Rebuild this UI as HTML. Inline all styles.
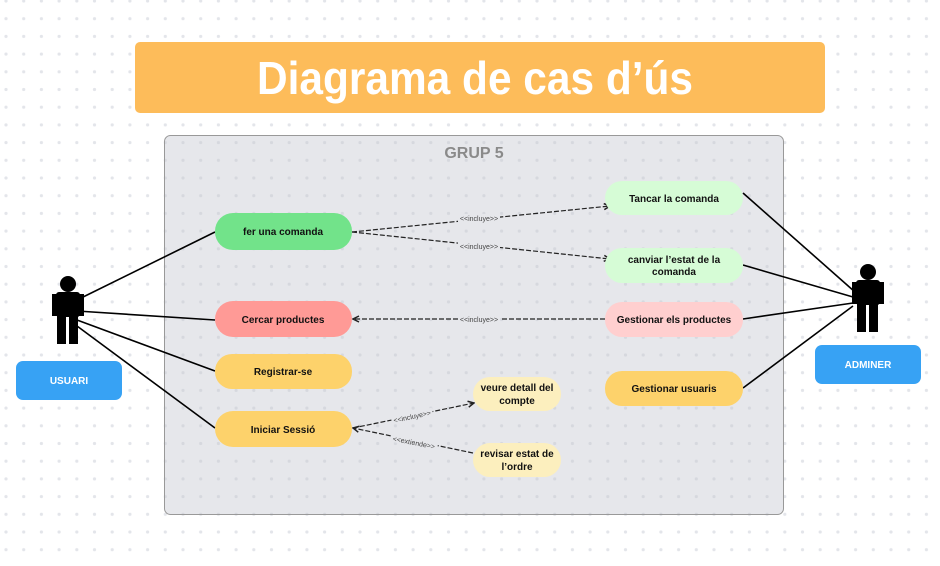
<!DOCTYPE html>
<html><head><meta charset="utf-8"><style>
body{margin:0;width:940px;height:561px;overflow:hidden;background:#fff;font-family:"Liberation Sans",sans-serif}
</style></head><body>
<svg width="940" height="561" xmlns="http://www.w3.org/2000/svg" font-family="Liberation Sans, sans-serif">
<defs>
<pattern id="dots" x="6" y="1" width="17.7" height="17.7" patternUnits="userSpaceOnUse"><circle cx="0" cy="0" r="1.6" fill="#e3e5ea"/><circle cx="17.7" cy="0" r="1.6" fill="#e3e5ea"/><circle cx="0" cy="17.7" r="1.6" fill="#e3e5ea"/><circle cx="17.7" cy="17.7" r="1.6" fill="#e3e5ea"/></pattern>
<pattern id="dots2" x="6" y="1" width="17.7" height="17.7" patternUnits="userSpaceOnUse"><circle cx="0" cy="0" r="1.6" fill="#d6d8de"/><circle cx="17.7" cy="0" r="1.6" fill="#d6d8de"/><circle cx="0" cy="17.7" r="1.6" fill="#d6d8de"/><circle cx="17.7" cy="17.7" r="1.6" fill="#d6d8de"/></pattern>
<marker id="ar" markerWidth="8" markerHeight="8" refX="7" refY="4" orient="auto" markerUnits="userSpaceOnUse"><path d="M1,1 L7,4 L1,7" fill="none" stroke="#222" stroke-width="1.5"/></marker>
</defs>
<rect width="940" height="561" fill="url(#dots)"/>
<rect x="135" y="42" width="690" height="71" rx="5" fill="#FDBC5A"/>
<text x="475" y="94" text-anchor="middle" font-size="46" font-weight="bold" fill="#fff" textLength="436" lengthAdjust="spacingAndGlyphs">Diagrama de cas d’ús</text>
<rect x="164.5" y="135.5" width="619" height="379" rx="6" fill="#E6E7EB" stroke="#999" stroke-width="1"/>
<rect x="165" y="136" width="618" height="378" rx="6" fill="url(#dots2)"/>
<text x="474" y="158" text-anchor="middle" font-size="16" font-weight="bold" fill="#8a8a8a">GRUP 5</text>
<g stroke="#000" stroke-width="1.6">
<line x1="77" y1="300" x2="215" y2="232"/><line x1="77" y1="311" x2="215" y2="320"/>
<line x1="77" y1="320" x2="215" y2="371"/><line x1="77" y1="326" x2="215" y2="428"/>
<line x1="743" y1="193" x2="855" y2="292"/><line x1="743" y1="265" x2="853" y2="297"/>
<line x1="743" y1="319" x2="853" y2="303"/><line x1="743" y1="388" x2="853" y2="306"/>
</g>
<g stroke="#222" stroke-width="1.2" stroke-dasharray="5,2" fill="none">
<line x1="352" y1="232" x2="610" y2="206" marker-end="url(#ar)"/>
<line x1="352" y1="232" x2="610" y2="259" marker-end="url(#ar)"/>
<line x1="605" y1="319" x2="353" y2="319" marker-end="url(#ar)"/>
<line x1="353" y1="428" x2="474" y2="403" marker-end="url(#ar)"/>
<line x1="473" y1="453" x2="353" y2="428" marker-end="url(#ar)"/>
</g>
<g font-size="7" fill="#444" text-anchor="middle">
<rect x="458" y="214" width="42" height="8" fill="#E6E7EB"/><text x="479" y="221">&lt;&lt;incluye&gt;&gt;</text>
<rect x="458" y="242" width="42" height="8" fill="#E6E7EB"/><text x="479" y="249">&lt;&lt;incluye&gt;&gt;</text>
<rect x="458" y="315" width="42" height="8" fill="#E6E7EB"/><text x="479" y="322">&lt;&lt;incluye&gt;&gt;</text>
<g transform="rotate(-12 412 416)"><rect x="391" y="412" width="42" height="8" fill="#E6E7EB"/><text x="412" y="419">&lt;&lt;incluye&gt;&gt;</text></g>
<g transform="rotate(11 414 442)"><rect x="390" y="438" width="48" height="8" fill="#E6E7EB"/><text x="414" y="445">&lt;&lt;extiende&gt;&gt;</text></g>
</g>
<g font-size="10" font-weight="bold" fill="#111" text-anchor="middle">
<rect x="215" y="213" width="137" height="37" rx="18" fill="#72E38A"/><text x="283" y="235">fer una comanda</text>
<rect x="215" y="301" width="137" height="36" rx="18" fill="#FF9A96"/><text x="283" y="323">Cercar productes</text>
<rect x="215" y="354" width="137" height="35" rx="17" fill="#FDD26B"/><text x="283" y="375">Registrar-se</text>
<rect x="215" y="411" width="137" height="36" rx="18" fill="#FDD26B"/><text x="283" y="433">Iniciar Sessió</text>
<rect x="605" y="181" width="138" height="34" rx="17" fill="#D6FCD6"/><text x="674" y="202">Tancar la comanda</text>
<rect x="605" y="248" width="138" height="35" rx="17" fill="#D6FCD6"/><text x="674" y="263">canviar l’estat de la</text><text x="674" y="275">comanda</text>
<rect x="605" y="302" width="138" height="35" rx="17" fill="#FFCFCF"/><text x="674" y="323">Gestionar els productes</text>
<rect x="605" y="371" width="138" height="35" rx="17" fill="#FDD26B"/><text x="674" y="392">Gestionar usuaris</text>
<rect x="473" y="377" width="88" height="34" rx="17" fill="#FCEFBE"/><text x="517" y="391">veure detall del</text><text x="517" y="404">compte</text>
<rect x="473" y="443" width="88" height="34" rx="17" fill="#FCEFBE"/><text x="517" y="457">revisar estat de</text><text x="517" y="470">l’ordre</text>
</g>
<g fill="#000">
<circle cx="68" cy="284" r="8"/><rect x="56" y="292" width="24" height="25" rx="3"/><rect x="52" y="294" width="5" height="22"/><rect x="79" y="294" width="5" height="22"/><rect x="57" y="314" width="9" height="30"/><rect x="69" y="314" width="9" height="30"/>
<circle cx="868" cy="272" r="8"/><rect x="856" y="280" width="24" height="25" rx="3"/><rect x="852" y="282" width="5" height="22"/><rect x="879" y="282" width="5" height="22"/><rect x="857" y="302" width="9" height="30"/><rect x="869" y="302" width="9" height="30"/>
</g>
<rect x="16" y="361" width="106" height="39" rx="7" fill="#37A2F4"/>
<text x="69" y="384" text-anchor="middle" font-size="10" font-weight="bold" fill="#fff">USUARI</text>
<rect x="815" y="345" width="106" height="39" rx="7" fill="#37A2F4"/>
<text x="868" y="368" text-anchor="middle" font-size="10" font-weight="bold" fill="#fff">ADMINER</text>
</svg>
</body></html>
